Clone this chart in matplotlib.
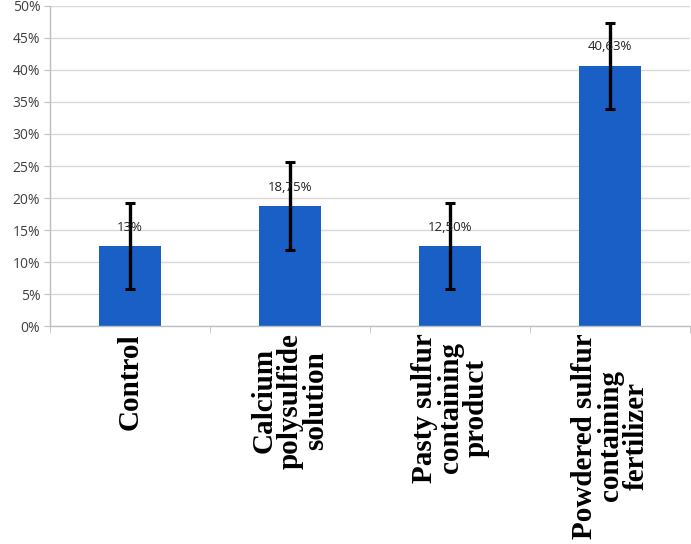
import matplotlib
matplotlib.use("Agg")
import matplotlib.pyplot as plt
import matplotlib.ticker as mtick
import numpy as np

# ── Data ──────────────────────────────────────────────────────────────────────
categories = [
    "Control",
    "Calcium\npolysulfide\nsolution",
    "Pasty sulfur\ncontaining\nproduct",
    "Powdered sulfur\ncontaining\nfertilizer",
]
values = [12.5, 18.75, 12.5, 40.63]          # percent
errors = [6.7, 6.8, 6.7, 6.7]                # percent (±)
value_labels = ["13%", "18,75%", "12,50%", "40,63%"]

# ── Style ─────────────────────────────────────────────────────────────────────
BAR_COLOR = "#1a5fc6"
GRID_COLOR = "#d9d9d9"
AXIS_COLOR = "#bfbfbf"
TEXT_COLOR = "#404040"

fig = plt.figure(figsize=(6.91, 5.44), dpi=100)
ax = fig.add_axes([0.0724, 0.4007, 0.9262, 0.5883])

x = np.arange(len(categories))
ax.bar(x, values, width=0.39, color=BAR_COLOR, zorder=2)
ax.errorbar(x, values, yerr=errors, fmt="none", ecolor="black",
            elinewidth=2.4, capsize=3.5, capthick=2.2, zorder=3)

for xi, v, lab in zip(x, values, value_labels):
    ax.annotate(lab, (xi, v), xytext=(0, 9), textcoords="offset points",
                ha="center", va="bottom", fontsize=9.5, color="#222222",
                family="Open Sans", zorder=4)

ax.set_xlim(-0.5, len(categories) - 0.5)
ax.set_ylim(0, 50)
ax.set_yticks(np.arange(0, 51, 5))
ax.yaxis.set_major_formatter(mtick.PercentFormatter(decimals=0))
ax.grid(axis="y", color=GRID_COLOR, lw=1.0, zorder=0)

for side in ("top", "right"):
    ax.spines[side].set_visible(False)
for side in ("left", "bottom"):
    ax.spines[side].set_color(AXIS_COLOR)
    ax.spines[side].set_linewidth(1.0)

ax.tick_params(axis="y", length=4, color=AXIS_COLOR, labelsize=10,
               labelcolor=TEXT_COLOR, pad=3)
for lab in ax.get_yticklabels():
    lab.set_family("Open Sans")

ax.set_xticks(x)
ax.set_xticks(np.arange(-0.5, len(categories)), minor=True)
ax.tick_params(axis="x", which="major", length=0, pad=5)
ax.tick_params(axis="x", which="minor", length=5, color=AXIS_COLOR)
ax.set_xticklabels(categories, rotation=90, ha="center", va="top",
                   multialignment="center", fontsize=21, fontweight="bold",
                   family="Liberation Serif", linespacing=0.95)

fig.savefig("out.png", dpi=100)
plt.close(fig)
